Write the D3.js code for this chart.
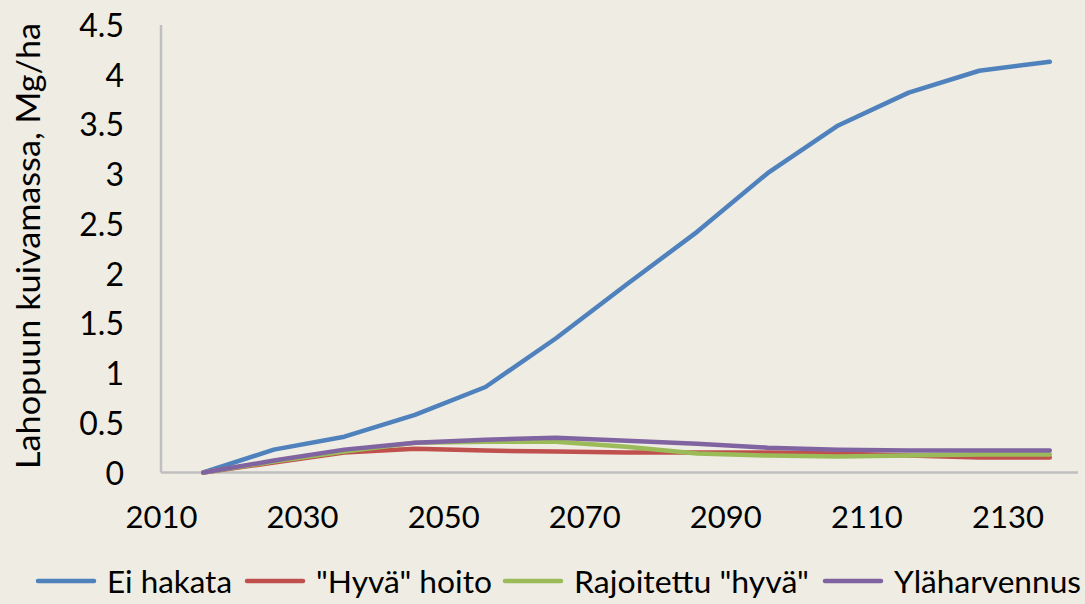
<!DOCTYPE html>
<html><head><meta charset="utf-8">
<script src="https://cdn.jsdelivr.net/npm/d3@7"></script>
<style>
html,body{margin:0;padding:0;background:#EEECE3;}
svg{display:block;}
text{font-family:Lato,"Open Sans",sans-serif;fill:#000;}
</style></head><body>
<svg id="c" width="1085" height="604"></svg>
<script>
const years = [2016,2026,2036,2046,2056,2066,2076,2086,2096,2106,2116,2126,2136];
const eiHakata = [0,0.23,0.36,0.58,0.86,1.35,1.89,2.42,3.01,3.49,3.82,4.04,4.13];
const hyvaHoito = [0,0.10,0.20,0.24,0.22,0.21,0.20,0.20,0.20,0.19,0.17,0.15,0.15];
const rajoitettu = [0,0.11,0.21,0.30,0.31,0.31,0.26,0.19,0.17,0.16,0.17,0.18,0.18];
const ylaharvennus = [0,0.12,0.23,0.30,0.33,0.35,0.32,0.29,0.25,0.23,0.22,0.22,0.22];
const seriesNames = ["Ei hakata","\"Hyvä\" hoito","Rajoitettu \"hyvä\"","Yläharvennus"];
const seriesColors = ["#4F81BD","#C0504D","#9BBB59","#8064A2"];
const xTicks = [2010,2030,2050,2070,2090,2110,2130];
const yTicks = [0,0.5,1,1.5,2,2.5,3,3.5,4,4.5];
const yTitle = "Lahopuun kuivamassa, Mg/ha";

const svg = d3.select("#c");
const x = d3.scaleLinear().domain([2010,2140]).range([161,1078]);
const y = d3.scaleLinear().domain([0,4.5]).range([472.5,25]);

svg.append("rect").attr("width",1085).attr("height",604).attr("fill","#EEECE3");

// axis lines
svg.append("line").attr("x1",x(2010)).attr("x2",x(2010)).attr("y1",y(4.5)).attr("y2",y(0))
  .attr("stroke","#BFBFBF").attr("stroke-width",2.5);
svg.append("line").attr("x1",x(2010)).attr("x2",x(2140)).attr("y1",y(0)).attr("y2",y(0))
  .attr("stroke","#BFBFBF").attr("stroke-width",2.5);

// y axis labels
const ya = svg.append("g").attr("transform","translate(124,0)")
  .call(d3.axisLeft(y).tickValues(yTicks).tickSize(0).tickPadding(0).tickFormat(d=>String(d)));
ya.select(".domain").remove();
ya.selectAll("text").style("font-size","32px").style("font-family","Lato").attr("fill","#000").attr("dy","0.36em");

// x axis labels
const xa = svg.append("g").attr("transform","translate(0,506)")
  .call(d3.axisBottom(x).tickValues(xTicks).tickSize(0).tickPadding(0).tickFormat(d=>String(d)));
xa.select(".domain").remove();
xa.selectAll("text").style("font-size","31px").style("font-family","Lato").attr("fill","#000").attr("dy","0.72em");

// y title
svg.append("text").attr("transform","translate(40,246) rotate(-90)")
  .attr("text-anchor","middle").style("font-size","32px")
  .attr("textLength",446).attr("lengthAdjust","spacingAndGlyphs").text(yTitle);

// lines
const data = [eiHakata,hyvaHoito,rajoitettu,ylaharvennus];
const line = d3.line().x((d,i)=>x(years[i])).y(d=>y(d));
data.forEach((s,k)=>{
  svg.append("path").datum(s).attr("d",line).attr("fill","none")
    .attr("stroke",seriesColors[k]).attr("stroke-width",4.5)
    .attr("stroke-linejoin","round").attr("stroke-linecap","round");
});

// legend
const legX = [38,247,505,825];
const legW = [125,176,235,187];
const lg = svg.append("g");
seriesNames.forEach((n,k)=>{
  lg.append("line").attr("x1",legX[k]).attr("x2",legX[k]+56).attr("y1",581).attr("y2",581)
    .attr("stroke",seriesColors[k]).attr("stroke-width",4.5).attr("stroke-linecap","round");
  lg.append("text").attr("x",legX[k]+69).attr("y",593).style("font-size","31px")
    .attr("textLength",legW[k]).attr("lengthAdjust","spacingAndGlyphs").text(n);
});
</script>
</body></html>
